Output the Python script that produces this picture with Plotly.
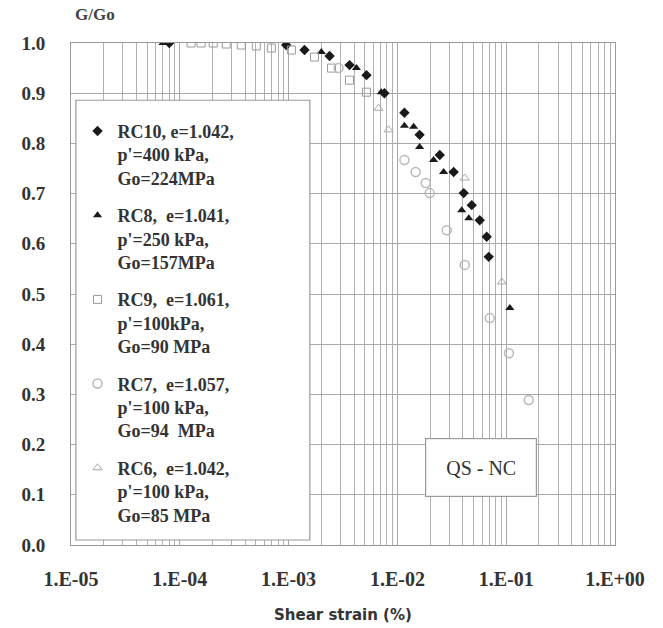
import plotly.graph_objects as go

# RC10 (filled diamonds)
rc10_x = [8.0e-5, 9.5e-4, 1.4e-3, 2.38e-3, 3.63e-3, 5.2e-3, 7.6e-3, 1.16e-2, 1.60e-2, 2.45e-2,
          3.29e-2, 4.07e-2, 4.82e-2, 5.71e-2, 6.62e-2, 6.91e-2]
rc10_g = [1.0, 0.996, 0.986, 0.974, 0.956, 0.936, 0.900, 0.861, 0.817, 0.777,
          0.743, 0.701, 0.677, 0.647, 0.614, 0.574]
# RC8 (filled triangles)
rc8_x = [7.0e-5, 2.0e-3, 4.2e-3, 7.1e-3, 1.16e-2, 1.41e-2, 1.60e-2, 2.15e-2, 2.66e-2, 3.90e-2, 4.53e-2, 0.108]
rc8_g = [1.0, 0.982, 0.950, 0.902, 0.835, 0.833, 0.793, 0.767, 0.743, 0.667, 0.651, 0.472]
# RC9 (open squares)
rc9_x = [1.27e-4, 1.57e-4, 2.03e-4, 2.67e-4, 3.67e-4, 5.05e-4, 6.95e-4, 1.06e-3, 1.73e-3, 2.48e-3, 3.63e-3, 5.2e-3]
rc9_g = [1.0, 1.0, 1.0, 0.998, 0.996, 0.994, 0.990, 0.986, 0.972, 0.950, 0.926, 0.902]
# RC7 (open circles)
rc7_x = [2.88e-3, 1.16e-2, 1.47e-2, 1.82e-2, 1.98e-2, 2.84e-2, 4.16e-2, 7.06e-2, 0.106, 0.161]
rc7_g = [0.950, 0.767, 0.743, 0.721, 0.701, 0.627, 0.558, 0.452, 0.382, 0.289]
# RC6 (open triangles)
rc6_x = [6.7e-3, 8.3e-3, 4.16e-2, 9.12e-2]
rc6_g = [0.870, 0.827, 0.731, 0.524]

x_ticks = [1e-5, 1e-4, 1e-3, 1e-2, 1e-1, 1e0]
x_tick_labels = ["1.E-05", "1.E-04", "1.E-03", "1.E-02", "1.E-01", "1.E+00"]
y_ticks = [0.0, 0.1, 0.2, 0.3, 0.4, 0.5, 0.6, 0.7, 0.8, 0.9, 1.0]
y_tick_labels = ["0.0", "0.1", "0.2", "0.3", "0.4", "0.5", "0.6", "0.7", "0.8", "0.9", "1.0"]

names = [
    "RC10, e=1.042,<br>p'=400 kPa,<br>Go=224MPa",
    "RC8,  e=1.041,<br>p'=250 kPa,<br>Go=157MPa",
    "RC9,  e=1.061,<br>p'=100kPa,<br>Go=90 MPa",
    "RC7,  e=1.057,<br>p'=100 kPa,<br>Go=94  MPa",
    "RC6,  e=1.042,<br>p'=100 kPa,<br>Go=85 MPa",
]

minor_vals = [m * 10 ** e for e in range(-5, 0) for m in range(2, 10)]

fig = go.Figure()
series = [
    (rc10_x, rc10_g, "diamond", "#1a1a1a", 8, 0),
    (rc8_x, rc8_g, "triangle-up", "#1a1a1a", 8, 0),
    (rc9_x, rc9_g, "square-open", "#9a9a9a", 8, 1),
    (rc7_x, rc7_g, "circle-open", "#b8b8b8", 9, 1.5),
    (rc6_x, rc6_g, "triangle-up-open", "#a8a8a8", 8, 1),
]
for i, (xs, ys, sym, col, sz, lw) in enumerate(series):
    fig.add_trace(go.Scatter(
        x=xs, y=ys, mode="markers", name=names[i], legendgroup=f"g{i}",
        marker=dict(symbol=sym, color=col, size=sz, line=dict(color=col, width=lw)),
    ))

fig.add_shape(type="rect", xref="paper", yref="paper", x0=0.009, x1=0.439, y0=0.010, y1=0.886,
              fillcolor="white", line=dict(color="#9a9a9a", width=1.2), layer="above")

fig.add_annotation(x=-1.234, y=0.155, xref="x", yref="y", text="QS - NC", showarrow=False,
                   font=dict(family="Liberation Serif", size=20, color="#333"),
                   bgcolor="white", bordercolor="#9a9a9a", borderwidth=1.2, width=108, height=55)

fig.add_annotation(xref="paper", yref="paper", x=0.003, y=1.056, xanchor="left", yanchor="middle",
                   text="<b>G/Go</b>", showarrow=False,
                   font=dict(family="Liberation Serif", size=17, color="#444"))

fig.add_annotation(xref="paper", yref="paper", x=0.5, y=-0.139, xanchor="center", yanchor="middle",
                   text="<b>Shear strain (%)</b>", showarrow=False,
                   font=dict(family="DejaVu Sans", size=15, color="#333"))

fig.update_layout(
    width=663, height=628,
    margin=dict(l=71, r=48, t=43, b=83),
    paper_bgcolor="white", plot_bgcolor="white",
    showlegend=True,
    legend=dict(x=0.012, y=0.861, xanchor="left", yanchor="top", bgcolor="rgba(0,0,0,0)",
                font=dict(family="Liberation Serif", size=18, color="#333", weight="bold"),
                valign="top", tracegroupgap=11, itemwidth=30),
    xaxis=dict(type="log", range=[-5, 0], tickvals=x_ticks, ticktext=x_tick_labels,
               showgrid=True, gridcolor="#a8a8a8", gridwidth=1,
               minor=dict(tickvals=minor_vals, showgrid=True, gridcolor="#b0b0b0", gridwidth=1),
               showline=True, linecolor="#999", mirror=True, ticks="", ticklabelstandoff=16,
               tickfont=dict(family="Liberation Serif", size=20, color="#333", weight="bold")),
    yaxis=dict(range=[0, 1.0], tickvals=y_ticks, ticktext=y_tick_labels,
               showgrid=True, gridcolor="#a8a8a8", gridwidth=1, zeroline=False,
               showline=True, linecolor="#999", mirror=True, ticks="", ticklabelstandoff=21,
               tickfont=dict(family="Liberation Serif", size=19, color="#333", weight="bold")),
)

fig.write_html("out.html")
